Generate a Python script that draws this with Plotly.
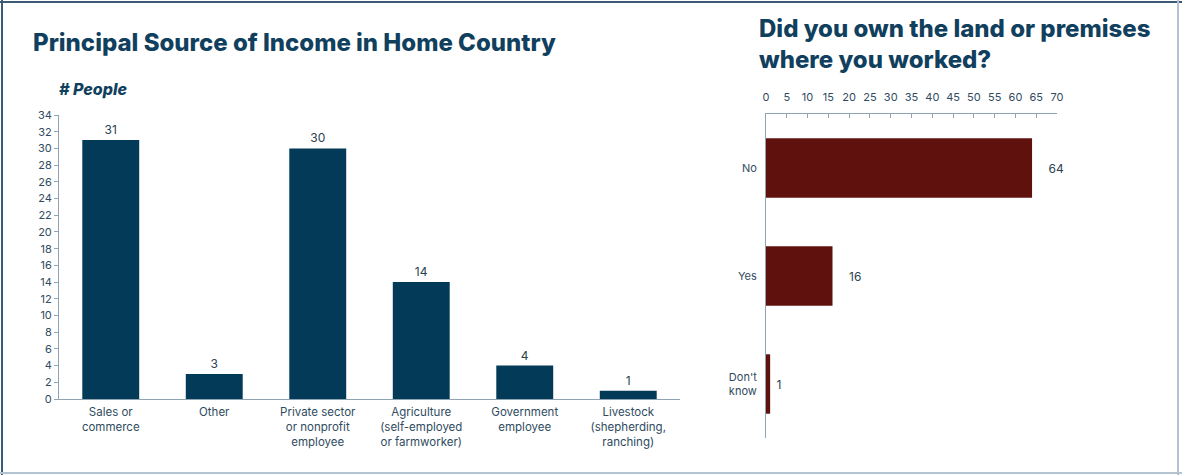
import plotly.graph_objects as go

# Principal source of income (number of people)
income_categories = [
    "Sales or<br>commerce",
    "Other",
    "Private sector<br>or nonprofit<br>employee",
    "Agriculture<br>(self-employed<br>or farmworker)",
    "Government<br>employee",
    "Livestock<br>(shepherding,<br>ranching)",
]
income_counts = [31, 3, 30, 14, 4, 1]
income_ticks = list(range(0, 35, 2))

# Ownership of land or premises
own_categories = ["No", "Yes", "Don't<br>know"]
own_counts = [64, 16, 1]
own_ticks = list(range(0, 71, 5))

NAVY = "#033a58"
MAROON = "#5f120d"
TITLE = "#113f5e"
TICK = "#2f4b61"
AXIS = "#8fa3b3"
FONT = "Inter, Roboto, Arial, sans-serif"

fig = go.Figure()

fig.add_trace(go.Bar(
    x=income_categories, y=income_counts,
    marker=dict(color=NAVY, line=dict(width=0)),
    text=income_counts, textposition="outside", cliponaxis=False,
    textfont=dict(size=12, color="#2a3f50", family=FONT),
    xaxis="x", yaxis="y", showlegend=False,
))

fig.add_trace(go.Bar(
    y=own_categories, x=own_counts, orientation="h",
    marker=dict(color=MAROON, line=dict(width=0)),
    text=own_counts, texttemplate=["    %{x}", "    %{x}", " %{x}"],
    textposition="outside", cliponaxis=False,
    textfont=dict(size=12, color="#2a3f50", family=FONT),
    xaxis="x2", yaxis="y2", showlegend=False,
))

W, H = 1182, 475

fig.update_layout(
    width=W, height=H,
    margin=dict(l=0, r=0, t=0, b=0, autoexpand=False),
    paper_bgcolor="white", plot_bgcolor="white",
    font=dict(family=FONT, color=TICK, size=11),
    bargap=0.45,
    xaxis=dict(
        domain=[59 / W, 680 / W], anchor="y", automargin=False,
        showline=True, linecolor=AXIS, linewidth=1,
        ticks="", showgrid=False, zeroline=False,
        ticklabelstandoff=2,
        tickfont=dict(size=11.5, color=TICK),
    ),
    yaxis=dict(
        domain=[(H - 399) / H, (H - 115) / H], anchor="x", automargin=False,
        range=[0, 34], tickvals=income_ticks,
        showline=True, linecolor=AXIS, linewidth=1,
        ticks="outside", ticklen=4, tickcolor=AXIS,
        showgrid=False, zeroline=False,
        tickfont=dict(size=11, color=TICK),
    ),
    xaxis2=dict(
        domain=[766 / W, 1057 / W], anchor="y2", side="top", automargin=False,
        range=[0, 70], tickvals=own_ticks,
        showline=True, linecolor=AXIS, linewidth=1,
        ticks="inside", ticklen=4, tickcolor=AXIS,
        showgrid=False, zeroline=False,
        ticklabelstandoff=8,
        tickfont=dict(size=11, color=TICK),
    ),
    yaxis2=dict(
        domain=[(H - 438) / H, (H - 114) / H], anchor="x2", automargin=False,
        range=[2.5, -0.5],
        showline=True, linecolor=AXIS, linewidth=1,
        ticks="", showgrid=False, zeroline=False,
        ticklabelstandoff=6,
        tickfont=dict(size=11, color=TICK),
    ),
)

annotations = [
    dict(text="Principal Source of Income in Home Country",
         x=31 / W, y=(H - 42) / H, xanchor="left", yanchor="middle",
         font=dict(size=24, color=TITLE, family=FONT, weight=800)),
    dict(text="<i># People</i>",
         x=57 / W, y=(H - 89) / H, xanchor="left", yanchor="middle",
         font=dict(size=16, color=TITLE, family=FONT, weight=800)),
    dict(text="Did you own the land or premises<br>where you worked?",
         x=757 / W, y=(H - 44) / H, xanchor="left", yanchor="middle",
         align="left",
         font=dict(size=24, color=TITLE, family=FONT, weight=800)),
]
for a in annotations:
    a.update(xref="paper", yref="paper", showarrow=False)
fig.update_layout(annotations=annotations)

# Frame around the slide
fig.update_layout(shapes=[
    dict(type="line", xref="paper", yref="paper", x0=2 / W, x1=2 / W, y0=0, y1=1,
         line=dict(color="#3a5a75", width=2)),
    dict(type="line", xref="paper", yref="paper", x0=0, x1=1, y0=(H - 2) / H, y1=(H - 2) / H,
         line=dict(color="#3a5a75", width=2)),
    dict(type="line", xref="paper", yref="paper", x0=(W - 4) / W, x1=(W - 4) / W, y0=0, y1=1,
         line=dict(color="#b3c3d0", width=2)),
    dict(type="line", xref="paper", yref="paper", x0=0, x1=1, y0=2 / H, y1=2 / H,
         line=dict(color="#b3c3d0", width=2)),
])

fig.write_html("out.html")
